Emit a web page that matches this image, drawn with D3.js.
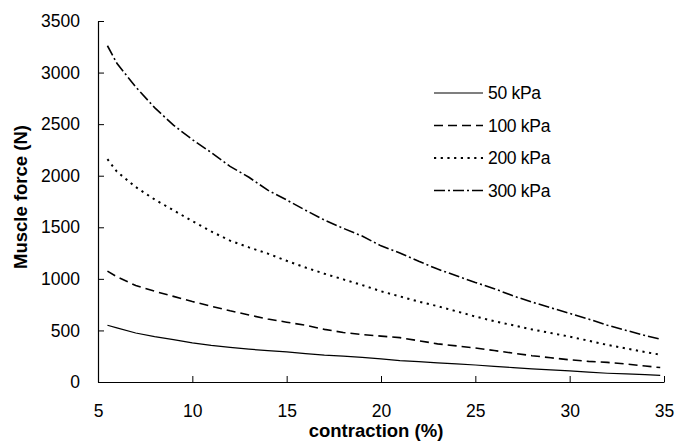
<!DOCTYPE html>
<html>
<head>
<meta charset="utf-8">
<script src="https://cdn.jsdelivr.net/npm/d3@7"></script>
<style>
  body { margin: 0; background: #fff; }
  svg { font-family: "Liberation Sans", Arial, sans-serif; }
</style>
</head>
<body>
<div class="container"></div>
<script>
const w = 676;
const h = 443;
const margin = { left: 98, right: 12, top: 21, bottom: 61 };

// contraction (%)
const contraction = [5.5, 6, 7, 8, 9, 10, 11, 12, 13, 14, 15, 16, 17, 18, 19, 20,
    21, 22, 23, 24, 25, 26, 27, 28, 29, 30, 31, 32, 33, 34, 34.8];
// muscle force (N) per pressure
const force50 = [550, 525, 475, 440, 410, 380, 355, 335, 318, 305, 292, 275, 260, 250, 238, 225,
    207, 198, 185, 175, 165, 152, 140, 128, 118, 108, 95, 85, 78, 72, 65];
const force100 = [1075, 1020, 935, 880, 830, 780, 735, 690, 650, 610, 580, 550, 510, 480, 460, 445,
    430, 400, 370, 350, 330, 305, 280, 255, 235, 215, 200, 190, 175, 155, 140];
const force200 = [2160, 2040, 1890, 1770, 1665, 1560, 1460, 1370, 1305, 1245, 1175, 1110, 1050, 995, 940, 880,
    830, 780, 735, 685, 635, 590, 550, 510, 475, 440, 400, 360, 325, 290, 265];
const force300 = [3260, 3090, 2860, 2660, 2490, 2350, 2225, 2090, 1985, 1860, 1765, 1665, 1570, 1490, 1415, 1320,
    1250, 1170, 1095, 1030, 965, 905, 835, 775, 720, 665, 610, 550, 500, 450, 415];

const seriesNames = ['50 kPa', '100 kPa', '200 kPa', '300 kPa'];
const xTicks = [5, 10, 15, 20, 25, 30, 35];
const yTicks = [0, 500, 1000, 1500, 2000, 2500, 3000, 3500];

const seriesData = [force50, force100, force200, force300];
const dashes = [null, '9,5', '2.2,4.5', '11,3,2,3'];
const widths = [1.2, 1.6, 2, 1.6];

const svg = d3.select('.container')
    .append('svg')
    .attr('width', w)
    .attr('height', h);

const xScale = d3.scaleLinear()
    .domain([5, 35])
    .range([margin.left, w - margin.right]);

const yScale = d3.scaleLinear()
    .domain([0, 3500])
    .range([h - margin.bottom, margin.top]);

const xAxis = d3.axisBottom(xScale)
    .tickValues(xTicks)
    .tickFormat(d3.format('d'))
    .tickSizeInner(-6)
    .tickSizeOuter(0)
    .tickPadding(23);

const yAxis = d3.axisLeft(yScale)
    .tickValues(yTicks)
    .tickFormat(d3.format('d'))
    .tickSizeInner(-6)
    .tickSizeOuter(0)
    .tickPadding(18);

const gx = svg.append('g')
    .attr('transform', `translate(0, ${h - margin.bottom})`)
    .call(xAxis);

const gy = svg.append('g')
    .attr('transform', `translate(${margin.left}, 0)`)
    .call(yAxis);

[gx, gy].forEach(g => {
    g.select('.domain').attr('stroke', '#000').attr('stroke-width', 1.2);
    g.selectAll('.tick line').attr('stroke', '#000').attr('stroke-width', 1);
    g.selectAll('.tick text')
        .attr('fill', '#000')
        .style('font-size', '17.5px')
        .style('font-family', '"Liberation Sans", Arial, sans-serif');
});

const line = d3.line()
    .x(d => xScale(d[0]))
    .y(d => yScale(d[1]));

seriesData.forEach((vals, i) => {
    const pts = contraction.map((c, j) => [c, vals[j]]);
    svg.append('path')
        .datum(pts)
        .attr('d', line)
        .attr('fill', 'none')
        .attr('stroke', '#000')
        .attr('stroke-width', widths[i])
        .attr('stroke-dasharray', dashes[i]);
});

// legend
const legend = svg.append('g').attr('transform', 'translate(434, 93)');
seriesNames.forEach((name, i) => {
    const row = legend.append('g').attr('transform', `translate(0, ${i * 32.5})`);
    row.append('line')
        .attr('x1', 0)
        .attr('x2', 49)
        .attr('y1', 0)
        .attr('y2', 0)
        .attr('stroke', '#000')
        .attr('stroke-width', widths[i])
        .attr('stroke-dasharray', dashes[i]);
    row.append('text')
        .attr('x', 54)
        .attr('y', 0)
        .attr('dy', '0.35em')
        .style('font-size', '17.5px')
        .style('letter-spacing', '-0.3px')
        .text(name);
});

// axis titles
svg.append('text')
    .attr('x', 376)
    .attr('y', 437)
    .attr('text-anchor', 'middle')
    .style('font-size', '18.5px')
    .style('font-weight', 'bold')
    .text('contraction (%)');

svg.append('text')
    .attr('transform', 'translate(27, 197) rotate(-90)')
    .attr('text-anchor', 'middle')
    .style('font-size', '18.5px')
    .style('font-weight', 'bold')
    .text('Muscle force (N)');
</script>
</body>
</html>
